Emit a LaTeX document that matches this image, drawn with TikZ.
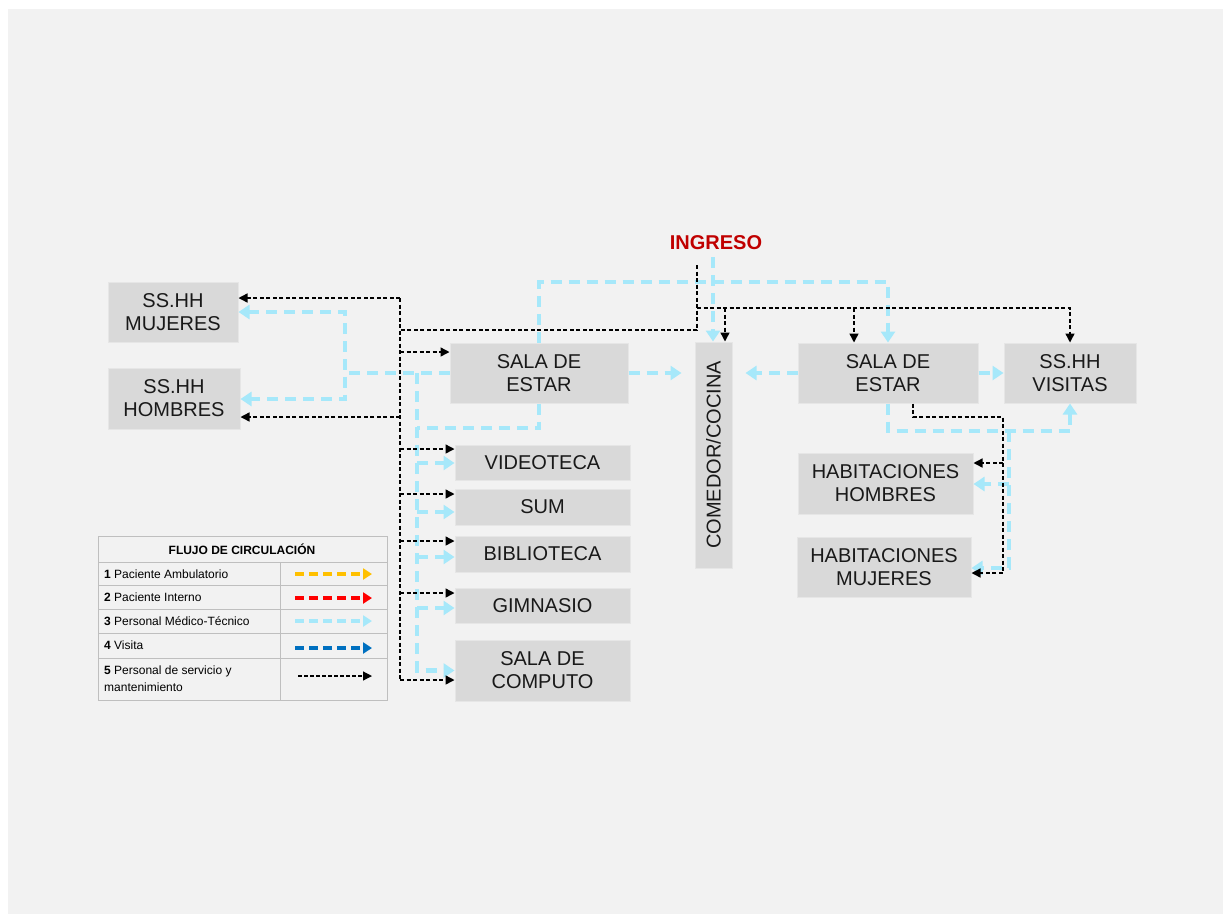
\documentclass[tikz,border=0pt]{standalone}
\usepackage{fontspec}
\setmainfont{Liberation Sans}
\usepackage{graphicx}
\usetikzlibrary{arrows.meta}
\definecolor{fondo}{HTML}{F2F2F2}
\definecolor{caja}{HTML}{D9D9D9}
\definecolor{borde}{HTML}{E6E6E6}
\definecolor{celeste}{RGB}{166,232,250}
\definecolor{rojo}{HTML}{C00000}
\definecolor{amarillo}{HTML}{FFC000}
\definecolor{azul}{HTML}{0070C0}
\definecolor{tabla}{HTML}{BFBFBF}

\begin{document}
\begin{tikzpicture}[x=1pt,y=-1pt,
  room/.style={fill=caja,draw=borde,line width=1pt,inner sep=0pt,align=center,
    font=\fontsize{20}{23}\selectfont,text=black!90},
  serv/.style={black,line width=1.4pt,dash pattern=on 4pt off 2.5pt,-{Triangle[length=9pt,width=9pt]}},
  servl/.style={black,line width=1.4pt,dash pattern=on 4pt off 2.5pt},
  med/.style={celeste,line width=4.5pt,dash pattern=on 11pt off 7pt,-{Triangle[length=11pt,width=14pt]}},
  medl/.style={celeste,line width=4.5pt,dash pattern=on 11pt off 7pt},
  leg/.style={line width=3.5pt,dash pattern=on 9pt off 5pt,-{Triangle[length=9pt,width=11pt]}},
  legtext/.style={anchor=west,inner sep=0pt,align=left,font=\fontsize{12}{17}\selectfont}]

\useasboundingbox (0,0) rectangle (1223,914);
\fill[white] (0,0) rectangle (1223,914);
\fill[fondo] (8,9) rectangle (1223,914);

% ambientes
\node[room,minimum width=130pt,minimum height=60pt] (mujeres) at (173,312) {SS.HH\\MUJERES};
\node[room,minimum width=132pt,minimum height=61pt] (hombres) at (174,398.5) {SS.HH\\HOMBRES};
\node[room,minimum width=178pt,minimum height=60pt] (salaI) at (539,373) {SALA DE\\ESTAR};
\node[room,minimum width=37pt,minimum height=226pt] (comedor) at (713.5,455) {\rotatebox{90}{COMEDOR/COCINA}};
\node[room,minimum width=180pt,minimum height=60pt] (salaD) at (888,373) {SALA DE\\ESTAR};
\node[room,minimum width=132pt,minimum height=60pt] (visitas) at (1070,373) {SS.HH\\VISITAS};
\node[room,minimum width=175pt,minimum height=35pt] (video) at (542.5,462.5) {VIDEOTECA};
\node[room,minimum width=175pt,minimum height=36pt] (sum) at (542.5,507) {SUM};
\node[room,minimum width=175pt,minimum height=36pt] (biblio) at (542.5,554) {BIBLIOTECA};
\node[room,minimum width=175pt,minimum height=35pt] (gim) at (542.5,605.5) {GIMNASIO};
\node[room,minimum width=175pt,minimum height=61pt] (computo) at (542.5,670.5) {SALA DE\\COMPUTO};
\node[room,minimum width=175pt,minimum height=61pt] (habH) at (885.5,483.5) {HABITACIONES\\HOMBRES};
\node[room,minimum width=174pt,minimum height=60pt] (habM) at (884,567) {HABITACIONES\\MUJERES};

\node[text=rojo,font=\fontsize{20}{23}\selectfont\bfseries] (ingreso) at (716,243) {INGRESO};

% puntos de quiebre
\coordinate (bIng) at (697,265);
\coordinate (bTrunk) at (400,330);
\coordinate (bRight) at (697,308);
\coordinate (jMuj) at (400,298);
\coordinate (jHom) at (400,417);
\coordinate (jSala) at (400,352);
\coordinate (jVid) at (400,449);
\coordinate (jSum) at (400,494);
\coordinate (jBib) at (400,541);
\coordinate (jGim) at (400,593);
\coordinate (jComp) at (400,680);
\coordinate (jCom) at (725,308);
\coordinate (jSalaD) at (854,308);
\coordinate (jHab) at (1003,417);
\coordinate (jHabH) at (1003,463);
\coordinate (jHabM) at (1003,573);

\coordinate (cIng) at (713,257);
\coordinate (cTop) at (713,282);
\coordinate (cMuj) at (345,312);
\coordinate (cHom) at (345,399);
\coordinate (cV0) at (417,373);
\coordinate (cRoom) at (417,428);
\coordinate (cVid) at (417,463);
\coordinate (cSum) at (417,512);
\coordinate (cBib) at (417,557);
\coordinate (cGim) at (417,608);
\coordinate (cLoop) at (1009,431);
\coordinate (cHabH) at (1009,484);
\coordinate (cHabM) at (1009,568);

% personal medico-tecnico
\draw[med] (cIng) -- (cIng |- comedor.north);
\draw[med] (salaI.north) |- (cTop) -| (salaD.north);
\draw[med] (salaI.west) -| (cMuj) -- (cMuj -| mujeres.east);
\draw[med] (salaI.west) -| (cHom) -- (cHom -| hombres.east);
\draw[medl] (salaI.south) |- (cRoom);
\draw[med] (cV0) |- (computo.west);
\draw[med] (cVid) -- (cVid -| video.west);
\draw[med] (cSum) -- (cSum -| sum.west);
\draw[med] (cBib) -- (cBib -| biblio.west);
\draw[med] (cGim) -- (cGim -| gim.west);
\draw[med,shorten >=13pt] (salaI.east) -- (comedor.west |- salaI.east);
\draw[med,shorten >=13pt] (salaD.west) -- (comedor.east |- salaD.west);
\draw[med] (salaD.east) -- (visitas.west);
\draw[med] (salaD.south) |- (cLoop) -| (visitas.south);
\draw[med] (cLoop) -- (cHabM) -- (cHabM -| habM.east);
\draw[med] (cHabH) -- (cHabH -| habH.east);

% personal de servicio
\draw[servl] (bIng) |- (bTrunk);
\draw[servl] (jMuj) -- (jComp);
\draw[serv] (jMuj) -- (jMuj -| mujeres.east);
\draw[serv] (jHom) -- (jHom -| hombres.east);
\draw[serv] (jSala) -- (jSala -| salaI.west);
\draw[serv] (jVid) -- (jVid -| video.west);
\draw[serv] (jSum) -- (jSum -| sum.west);
\draw[serv] (jBib) -- (jBib -| biblio.west);
\draw[serv] (jGim) -- (jGim -| gim.west);
\draw[serv] (jComp) -- (jComp -| computo.west);
\draw[serv] (bRight) -| (visitas.north);
\draw[serv] (jCom) -- (jCom |- comedor.north);
\draw[serv] (jSalaD) -- (jSalaD |- salaD.north);
\draw[serv] ([xshift=25pt]salaD.south) |- (jHab) -- (jHabM) -- (jHabM -| habM.east);
\draw[serv] (jHabH) -- (jHabH -| habH.east);

% leyenda
\draw[tabla,line width=0.8pt] (98,536) rectangle (387,700);
\draw[tabla,line width=0.8pt] (98,562) -- (387,562) (98,585) -- (387,585) (98,609) -- (387,609)
  (98,633) -- (387,633) (98,658) -- (387,658) (280,562) -- (280,700);
\node[font=\fontsize{12}{14}\selectfont\bfseries] (titulo) at (242,549) {FLUJO DE CIRCULACIÓN};
\node[legtext] (l1) at (104,574) {\textbf{1} Paciente Ambulatorio};
\node[legtext] (l2) at (104,597) {\textbf{2} Paciente Interno};
\node[legtext] (l3) at (104,621) {\textbf{3} Personal Médico-Técnico};
\node[legtext] (l4) at (104,645.5) {\textbf{4} Visita};
\node[legtext] (l5) at (104,679) {\textbf{5} Personal de servicio y\\mantenimiento};
\draw[leg,amarillo] (295,574) -- +(77,0);
\draw[leg,red] (295,598) -- +(77,0);
\draw[leg,celeste] (295,621) -- +(77,0);
\draw[leg,azul] (295,648) -- +(77,0);
\draw[black,line width=1.2pt,dash pattern=on 3.5pt off 2.5pt,-{Triangle[length=9pt,width=9pt]}] (298,676) -- +(74,0);
\end{tikzpicture}
\end{document}
